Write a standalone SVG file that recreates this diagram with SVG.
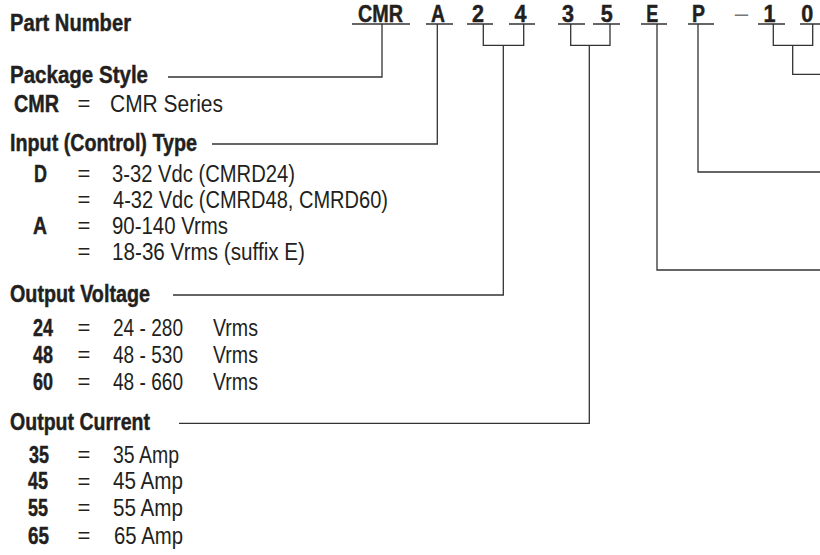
<svg xmlns="http://www.w3.org/2000/svg" width="820" height="555" viewBox="0 0 820 555">
<style>
text{font-family:"Liberation Sans Narrow","Liberation Sans",Arial,sans-serif;fill:#231f20;font-size:23.5px}
.b{font-weight:bold;stroke:#231f20;stroke-width:0.45}
.eq{text-anchor:middle;font-size:22px}
.m{text-anchor:middle}
.dash{fill:#777;stroke:none;font-weight:normal;font-size:24px;text-anchor:middle}
.ul{stroke:#333;stroke-width:1.3;fill:none}
.c{stroke:#333;stroke-width:1.3;fill:none}
</style>
<rect width="820" height="555" fill="#fff"/>
<g id="part-number">
<text class="b" x="10" y="31" textLength="121" lengthAdjust="spacingAndGlyphs">Part Number</text>
<text class="b" x="358" y="22" textLength="45" lengthAdjust="spacingAndGlyphs">CMR</text>
<text class="b m" x="438" y="22" textLength="14" lengthAdjust="spacingAndGlyphs">A</text>
<text class="b m" x="478" y="22" textLength="12" lengthAdjust="spacingAndGlyphs">2</text>
<text class="b m" x="520.5" y="22" textLength="12" lengthAdjust="spacingAndGlyphs">4</text>
<text class="b m" x="568" y="22" textLength="12" lengthAdjust="spacingAndGlyphs">3</text>
<text class="b m" x="606.7" y="22" textLength="12" lengthAdjust="spacingAndGlyphs">5</text>
<text class="b m" x="652.3" y="22" textLength="12" lengthAdjust="spacingAndGlyphs">E</text>
<text class="b m" x="698.5" y="22" textLength="13" lengthAdjust="spacingAndGlyphs">P</text>
<text class="dash" x="741.5" y="21">–</text>
<text class="b m" x="769.5" y="22" textLength="12" lengthAdjust="spacingAndGlyphs">1</text>
<text class="b m" x="807.3" y="22" textLength="12" lengthAdjust="spacingAndGlyphs">0</text>
<path class="ul" d="M352 24H410M426 24H453M467 24H493M509 24H535M558 24H585M593 24H620M641 24H667M688 24H714M758 24H785M800 24H820"/>
</g>
<g id="connectors">
<path class="c" d="M382 24V77H168"/>
<path class="c" d="M437.3 24V144H212"/>
<path class="c" d="M483.3 24V45.3H523.7V24M503.3 45.3V295H173"/>
<path class="c" d="M570.7 24V45.3H610V24M589.3 45.3V423.3H179"/>
<path class="c" d="M657 24V270H820"/>
<path class="c" d="M698 24V172H820"/>
<path class="c" d="M773.3 24V45.3H812.7V24M792.7 45.3V74.3H820"/>
</g>
<g id="package-style">
<text class="b" x="10" y="82.5" textLength="138" lengthAdjust="spacingAndGlyphs">Package Style</text>
<text class="b" x="14" y="111.5" textLength="45" lengthAdjust="spacingAndGlyphs">CMR</text>
<text class="eq" x="84" y="111">=</text>
<text x="110" y="111.5" textLength="113" lengthAdjust="spacingAndGlyphs">CMR Series</text>
</g>
<g id="input-type">
<text class="b" x="10" y="150.5" textLength="187" lengthAdjust="spacingAndGlyphs">Input (Control) Type</text>
<text class="b" x="34" y="181.5" textLength="13" lengthAdjust="spacingAndGlyphs">D</text>
<text class="eq" x="84" y="181">=</text>
<text x="112" y="181.5" textLength="183" lengthAdjust="spacingAndGlyphs">3-32 Vdc (CMRD24)</text>
<text class="eq" x="84" y="207">=</text>
<text x="113" y="207.5" textLength="275" lengthAdjust="spacingAndGlyphs">4-32 Vdc (CMRD48, CMRD60)</text>
<text class="b" x="33" y="233.5" textLength="14" lengthAdjust="spacingAndGlyphs">A</text>
<text class="eq" x="84" y="233">=</text>
<text x="112" y="233.5" textLength="116" lengthAdjust="spacingAndGlyphs">90-140 Vrms</text>
<text class="eq" x="84" y="259">=</text>
<text x="112" y="259.5" textLength="193" lengthAdjust="spacingAndGlyphs">18-36 Vrms (suffix E)</text>
</g>
<g id="output-voltage">
<text class="b" x="10" y="302" textLength="140" lengthAdjust="spacingAndGlyphs">Output Voltage</text>
<text class="b" x="33" y="335.5" textLength="20" lengthAdjust="spacingAndGlyphs">24</text>
<text class="eq" x="84" y="335">=</text>
<text x="113" y="335.5" textLength="70" lengthAdjust="spacingAndGlyphs">24 - 280</text>
<text x="213" y="335.5" textLength="45" lengthAdjust="spacingAndGlyphs">Vrms</text>
<text class="b" x="33" y="362.5" textLength="20" lengthAdjust="spacingAndGlyphs">48</text>
<text class="eq" x="84" y="362">=</text>
<text x="113" y="362.5" textLength="70" lengthAdjust="spacingAndGlyphs">48 - 530</text>
<text x="213" y="362.5" textLength="45" lengthAdjust="spacingAndGlyphs">Vrms</text>
<text class="b" x="33" y="389.5" textLength="20" lengthAdjust="spacingAndGlyphs">60</text>
<text class="eq" x="84" y="389">=</text>
<text x="113" y="389.5" textLength="70" lengthAdjust="spacingAndGlyphs">48 - 660</text>
<text x="213" y="389.5" textLength="45" lengthAdjust="spacingAndGlyphs">Vrms</text>
</g>
<g id="output-current">
<text class="b" x="10" y="429.5" textLength="140" lengthAdjust="spacingAndGlyphs">Output Current</text>
<text class="b" x="29" y="462.5" textLength="20" lengthAdjust="spacingAndGlyphs">35</text>
<text class="eq" x="84" y="462">=</text>
<text x="113" y="462.5" textLength="66" lengthAdjust="spacingAndGlyphs">35 Amp</text>
<text class="b" x="28" y="489" textLength="20" lengthAdjust="spacingAndGlyphs">45</text>
<text class="eq" x="84" y="488.5">=</text>
<text x="113" y="489" textLength="70" lengthAdjust="spacingAndGlyphs">45 Amp</text>
<text class="b" x="28" y="515.5" textLength="20" lengthAdjust="spacingAndGlyphs">55</text>
<text class="eq" x="84" y="515">=</text>
<text x="113" y="515.5" textLength="70" lengthAdjust="spacingAndGlyphs">55 Amp</text>
<text class="b" x="28" y="543.5" textLength="21" lengthAdjust="spacingAndGlyphs">65</text>
<text class="eq" x="84" y="543">=</text>
<text x="114" y="543.5" textLength="69" lengthAdjust="spacingAndGlyphs">65 Amp</text>
</g>
</svg>
